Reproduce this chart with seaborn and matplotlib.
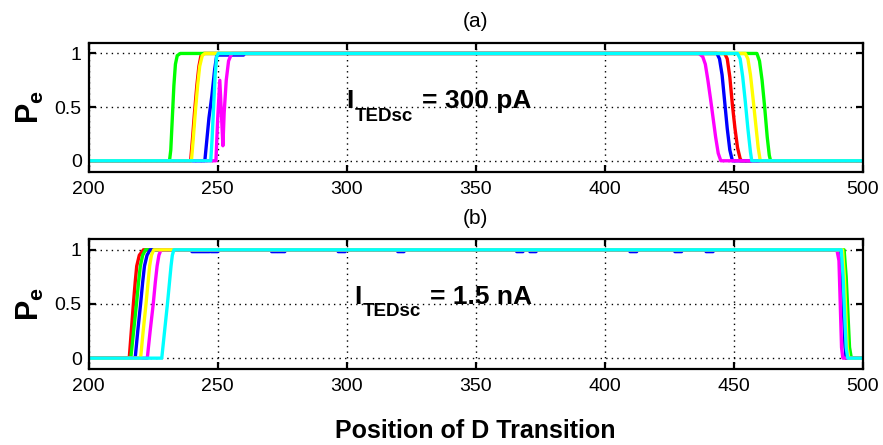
import matplotlib
matplotlib.use("Agg")
import matplotlib.pyplot as plt
import seaborn as sns

# ---------------- data ----------------
XTICKS = [200, 250, 300, 350, 400, 450, 500]
YTICKS = [0, 0.5, 1]
YTICK_LABELS = ["0", "0.5", "1"]

# Panel (a): I_TEDsc = 300 pA
A_GREEN_X = [200, 231.3, 231.8, 232.4, 233.0, 233.6, 234.3, 235.5, 459.0, 460.0, 461.0, 462.0, 463.0, 463.8, 464.3, 500]
A_GREEN_Y = [0, 0, 0.1, 0.4, 0.7, 0.9, 0.98, 1, 1, 0.93, 0.75, 0.5, 0.22, 0.05, 0, 0]
A_RED_X = [200, 239.5, 240.2, 241.0, 241.9, 242.7, 243.5, 244.5, 446.5, 447.5, 448.5, 449.5, 450.5, 451.5, 452.5, 453.0, 500]
A_RED_Y = [0, 0, 0.2, 0.45, 0.7, 0.88, 0.98, 1, 1, 0.95, 0.78, 0.52, 0.3, 0.12, 0.02, 0, 0]
A_YELLOW_X = [200, 239.8, 240.5, 241.3, 242.2, 243.0, 244.0, 245.0, 454.5, 455.5, 456.5, 457.5, 458.5, 459.5, 460.3, 500]
A_YELLOW_Y = [0, 0, 0.2, 0.45, 0.7, 0.88, 0.98, 1, 1, 0.95, 0.8, 0.58, 0.35, 0.12, 0, 0]
A_BLUE_X = [200, 245.0, 245.6, 246.6, 247.7, 248.8, 249.6, 250.3, 260.0, 260.5, 443.5, 444.5, 445.5, 446.5, 447.5, 448.5, 449.5, 500]
A_BLUE_Y = [0, 0, 0.15, 0.4, 0.6, 0.85, 0.98, 0.985, 0.985, 1, 1, 0.95, 0.8, 0.55, 0.3, 0.1, 0, 0]
A_MAGENTA_X = [200, 249.3, 250.0, 250.8, 251.5, 252.0, 252.5, 253.3, 254.2, 255.4, 436.5, 438.0, 439.0, 440.0, 441.0, 442.0, 443.0, 444.0, 445.0, 500]
A_MAGENTA_Y = [0, 0, 0.4, 0.75, 0.4, 0.14, 0.45, 0.75, 0.93, 1, 1, 0.97, 0.9, 0.75, 0.58, 0.4, 0.22, 0.07, 0, 0]
A_CYAN_X = [200, 247.3, 247.8, 248.4, 249.0, 249.6, 250.2, 451.5, 452.5, 453.5, 454.5, 455.5, 456.5, 457.0, 500]
A_CYAN_Y = [0, 0, 0.2, 0.5, 0.8, 0.97, 1, 1, 0.95, 0.78, 0.55, 0.3, 0.08, 0, 0]

# Panel (b): I_TEDsc = 1.5 nA
B_EDGE_Y = [0, 0, 0.25, 0.5, 0.7, 0.85, 0.95, 1, 1, 0.75, 0.4, 0.1, 0, 0]
B_RED_X = [200, 215.7, 216.5, 217.3, 218.0, 218.6, 219.6, 221.2, 491.8, 492.5, 492.9, 493.3, 493.7, 500]
B_GREEN_X = [200, 216.3, 217.4, 218.5, 219.3, 220.0, 220.9, 222.0, 492.8, 493.6, 494.3, 494.9, 495.6, 500]
B_YELLOW_X = [200, 220.1, 221.1, 222.2, 223.0, 223.6, 224.3, 225.2, 492.2, 492.9, 493.5, 494.0, 494.6, 500]
B_MAGENTA_X = [200, 222.7, 223.8, 225.0, 225.8, 226.5, 227.2, 228.0, 490.0, 490.8, 491.3, 491.8, 492.3, 500]
B_MAGENTA_Y = [0, 0, 0.25, 0.5, 0.7, 0.85, 0.95, 1, 1, 0.9, 0.5, 0.1, 0, 0]
B_CYAN_X = [200, 228.3, 229.4, 230.5, 231.3, 231.9, 232.4, 233.0, 491.7, 492.4, 493.0, 493.6, 494.2, 500]
B_BLUE_X = [200, 218.0, 219.0, 220.1, 220.9, 221.6, 222.6, 223.8,
            240.0, 240.0, 246.8, 246.8, 247.4, 247.4, 250.0, 250.0,
            270.9, 270.9, 273.1, 273.1, 273.5, 273.5, 276.0, 276.0,
            296.7, 296.7, 299.4, 299.4, 319.8, 319.8, 322.2, 322.2,
            365.9, 365.9, 368.3, 368.3, 371.0, 371.0, 373.4, 373.4,
            409.8, 409.8, 412.4, 412.4, 427.2, 427.2, 429.8, 429.8,
            439.3, 439.3, 442.0, 442.0,
            491.5, 492.2, 492.6, 493.2, 493.6, 500]
B_BLUE_Y = [0, 0, 0.25, 0.5, 0.7, 0.85, 0.95, 1,
            1, 0.983, 0.983, 1, 1, 0.983, 0.983, 1,
            1, 0.983, 0.983, 1, 1, 0.983, 0.983, 1,
            1, 0.983, 0.983, 1, 1, 0.983, 0.983, 1,
            1, 0.983, 0.983, 1, 1, 0.983, 0.983, 1,
            1, 0.983, 0.983, 1, 1, 0.983, 0.983, 1,
            1, 0.983, 0.983, 1,
            1, 0.7, 0.4, 0.1, 0, 0]

COLORS = {"red": "#ff0000", "green": "#00ff00", "blue": "#0000ff",
          "magenta": "#ff00ff", "yellow": "#ffff00", "cyan": "#00ffff"}

SERIES_A = [("red", A_RED_X, A_RED_Y), ("green", A_GREEN_X, A_GREEN_Y),
            ("blue", A_BLUE_X, A_BLUE_Y), ("magenta", A_MAGENTA_X, A_MAGENTA_Y),
            ("yellow", A_YELLOW_X, A_YELLOW_Y), ("cyan", A_CYAN_X, A_CYAN_Y)]
SERIES_B = [("red", B_RED_X, B_EDGE_Y), ("green", B_GREEN_X, B_EDGE_Y),
            ("blue", B_BLUE_X, B_BLUE_Y), ("magenta", B_MAGENTA_X, B_MAGENTA_Y),
            ("yellow", B_YELLOW_X, B_EDGE_Y), ("cyan", B_CYAN_X, B_EDGE_Y)]

# ---------------- style ----------------
sns.set_theme(style="ticks")
plt.rcParams["font.family"] = ["Liberation Sans", "DejaVu Sans"]
plt.rcParams["mathtext.fontset"] = "custom"
plt.rcParams["mathtext.rm"] = "Liberation Sans"
plt.rcParams["mathtext.it"] = "Liberation Sans:italic"
plt.rcParams["mathtext.bf"] = "Liberation Sans:bold"
for key in ("text.color", "axes.labelcolor", "xtick.color", "ytick.color", "axes.edgecolor"):
    plt.rcParams[key] = "black"

fig = plt.figure(figsize=(8.83, 4.45), dpi=100)
ax1 = fig.add_axes([0.1005, 0.6146, 0.8765, 0.2894])
ax2 = fig.add_axes([0.1005, 0.1708, 0.8765, 0.2922])


def current_label(ax, x, y, value_text):
    t1 = ax.text(x, y, "I", fontsize=19, fontweight="bold", color="black",
                 ha="left", va="baseline")
    t2 = ax.annotate("TEDsc", xy=(1, y), xycoords=(t1, "data"),
                     xytext=(0.8, -9), textcoords="offset points",
                     fontsize=13.5, fontweight="bold", color="black",
                     ha="left", va="baseline")
    ax.annotate(value_text, xy=(1, y), xycoords=(t2, "data"),
                xytext=(6.5, 0), textcoords="offset points",
                fontsize=19, fontweight="bold", color="black",
                ha="left", va="baseline")


def style_axes(ax, series, title):
    for name, xs, ys in series:
        sns.lineplot(x=xs, y=ys, color=COLORS[name], lw=2.4, ax=ax,
                     estimator=None, sort=False, legend=False)
    ax.set_xlim(200, 500)
    ax.set_ylim(-0.1, 1.1)
    ax.set_xticks(XTICKS)
    ax.set_xticklabels([str(t) for t in XTICKS])
    ax.set_yticks(YTICKS)
    ax.set_yticklabels(YTICK_LABELS)
    ax.grid(True, color="black", linestyle=(0, (1, 3)), linewidth=1.0)
    ax.set_axisbelow(True)
    for sp in ax.spines.values():
        sp.set_visible(True)
        sp.set_color("black")
        sp.set_linewidth(1.6)
    ax.tick_params(axis="both", direction="in", top=True, right=True,
                   length=5, width=1.6, colors="black", labelsize=14)
    ax.tick_params(axis="x", pad=6.5)
    ax.tick_params(axis="y", pad=5)
    ax.set_ylabel(r"$\mathbf{P_e}$", fontsize=22, labelpad=6, color="black")
    ax.set_xlabel("")
    ax.set_title(title, fontsize=15, pad=11, color="black")


style_axes(ax1, SERIES_A, "(a)")
style_axes(ax2, SERIES_B, "(b)")
current_label(ax1, 300, 0.49, "= 300 pA")
current_label(ax2, 303, 0.5, "= 1.5 nA")
ax2.set_xlabel("Position of D Transition", fontsize=18, fontweight="bold",
               labelpad=17, color="black")

fig.savefig("out.png", dpi=100)
